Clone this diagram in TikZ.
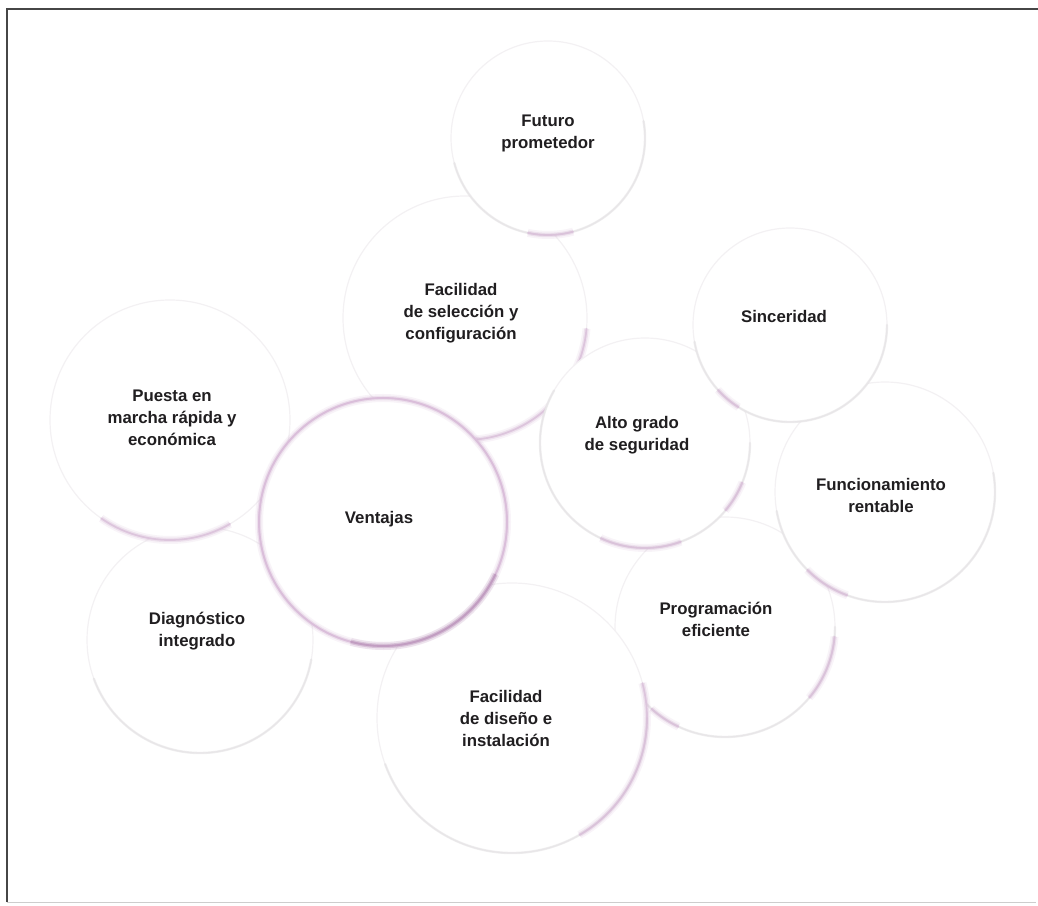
\documentclass[tikz,border=0pt]{standalone}
\usepackage{fontspec}
\setmainfont{Liberation Sans}
\definecolor{ringgray}{RGB}{243,241,243}
\definecolor{rose}{RGB}{214,184,214}
\definecolor{lilac}{RGB}{212,180,212}
\definecolor{deeplilac}{RGB}{186,148,186}
\definecolor{txt}{RGB}{32,30,32}
\definecolor{framedark}{RGB}{70,70,70}
\definecolor{framelight}{RGB}{205,205,205}
\begin{document}
\begin{tikzpicture}[x=1pt,y=1pt,
  bubble/.style={circle, draw=ringgray, line width=1.2pt, fill=white,
    inner sep=0pt, outer sep=0pt},
  lbl/.style={align=center, text=txt,
    font=\bfseries\fontsize{16.8}{22}\selectfont},
  soft/.style={line cap=round, draw=#1, line width=1.8pt, draw opacity=.6,
    preaction={draw=#1, line width=4.5pt, draw opacity=.3},
    preaction={draw=#1, line width=8pt, draw opacity=.15}},
  faint/.style={line cap=round, line width=2.4pt, draw=ringgray!80!gray, draw opacity=.45},
]
\useasboundingbox (0,0) rectangle (1038,905);

% frame
\draw[framedark, line width=1.3pt] (7,3) -- (7,896) -- (1038,896);
\draw[framelight, line width=0.8pt] (7,3) -- (1036,3);

% bubbles, back to front
\node[bubble, minimum size=220pt] (pro) at (725,278) {};
\draw[faint] (pro.200) arc[start angle=200, end angle=360, radius=110];
\draw[soft=rose] (pro.320) arc[start angle=320, end angle=355, radius=110];
\draw[soft=rose] (pro.228) arc[start angle=228, end angle=245, radius=110];

\node[bubble, minimum size=244pt] (sel) at (465,587) {};
\draw[soft=rose] (sel.275) arc[start angle=275, end angle=355, radius=122];

\node[bubble, minimum size=210pt] (alt) at (645,462) {};
\draw[faint] (alt.150) arc[start angle=150, end angle=360, radius=105];
\draw[soft=rose] (alt.245) arc[start angle=245, end angle=290, radius=105];
\draw[soft=rose] (alt.320) arc[start angle=320, end angle=338, radius=105];

\node[bubble, minimum size=220pt] (fun) at (885,413) {};
\draw[faint] (fun.190) arc[start angle=190, end angle=370, radius=110];
\draw[soft=rose] (fun.225) arc[start angle=225, end angle=250, radius=110];

\node[bubble, minimum size=194pt] (sin) at (790,580) {};
\draw[faint] (sin.190) arc[start angle=190, end angle=360, radius=97];
\draw[soft=rose] (sin.222) arc[start angle=222, end angle=238, radius=97];

\node[bubble, minimum size=194pt] (fut) at (548,767) {};
\draw[faint] (fut.195) arc[start angle=195, end angle=370, radius=97];
\draw[soft=rose] (fut.258) arc[start angle=258, end angle=285, radius=97];

\node[bubble, minimum size=270pt] (dis) at (512,187) {};
\draw[faint] (dis.200) arc[start angle=200, end angle=360, radius=135];
\draw[soft=rose] (dis.300) arc[start angle=300, end angle=375, radius=135];

\node[bubble, minimum size=226pt] (dia) at (200,265) {};
\draw[faint] (dia.200) arc[start angle=200, end angle=350, radius=113];

\node[bubble, minimum size=240pt] (pue) at (170,485) {};
\draw[soft=rose] (pue.235) arc[start angle=235, end angle=300, radius=120];

\node[bubble, minimum size=248pt, draw=lilac!40, line width=2pt] (ven) at (383,383) {};
\draw[soft=lilac] (ven.0) arc[start angle=0, end angle=360, radius=124];
\draw[soft=deeplilac] (ven.255) arc[start angle=255, end angle=335, radius=124];

% labels
\node[lbl] (fut-t) at (548,772) {Futuro\\prometedor};
\node[lbl] (sel-t) at (461,592) {Facilidad\\de selección y\\configuración};
\node[lbl] (sin-t) at (784,588) {Sinceridad};
\node[lbl] (pue-t) at (172,487) {Puesta en\\marcha rápida y\\económica};
\node[lbl] (ven-t) at (379,386) {Ventajas};
\node[lbl] (alt-t) at (637,470) {Alto grado\\de seguridad};
\node[lbl] (fun-t) at (881,410) {Funcionamiento\\rentable};
\node[lbl] (pro-t) at (716,286) {Programación\\eficiente};
\node[lbl] (dis-t) at (506,187) {Facilidad\\de diseño e\\instalación};
\node[lbl] (dia-t) at (197,274) {Diagnóstico\\integrado};
\end{tikzpicture}
\end{document}
